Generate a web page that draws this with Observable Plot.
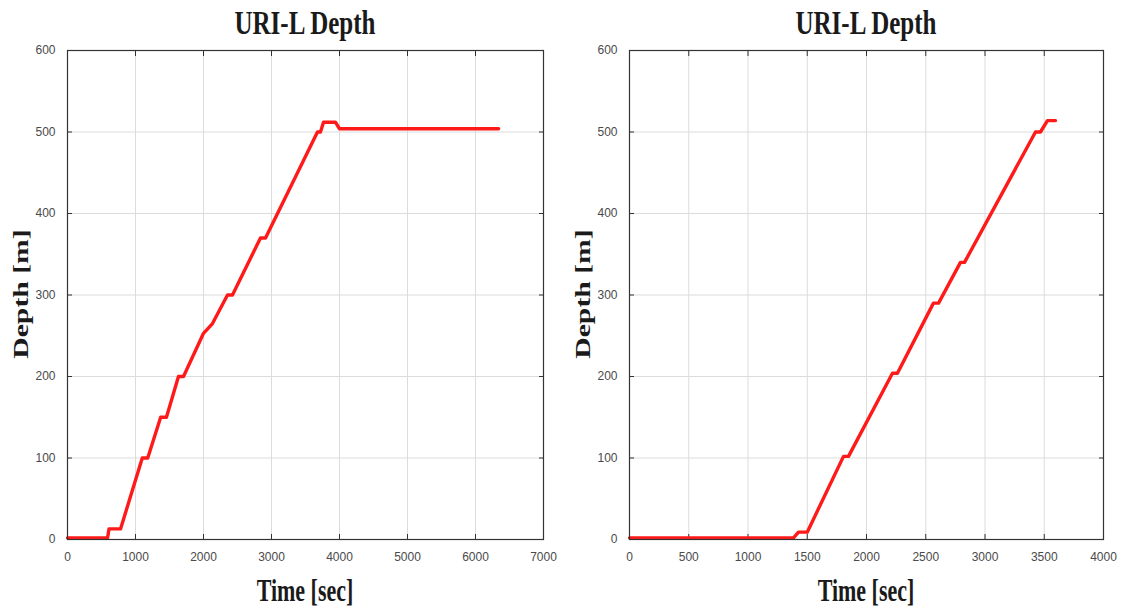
<!DOCTYPE html>
<html>
<head>
<meta charset="utf-8">
<script src="https://cdn.jsdelivr.net/npm/d3@7"></script>
<script src="https://cdn.jsdelivr.net/npm/@observablehq/plot@0.6"></script>
<style>
  html, body { margin: 0; padding: 0; background: #fff; }
  #wrap { position: relative; width: 1123px; height: 612px; overflow: hidden; background: #fff; }
  .panel { position: absolute; top: 40px; }
  .lbl { position: absolute; font-family: "Liberation Serif", "Times New Roman", serif; font-weight: bold; color: #1a1a1a; text-align: center; white-space: nowrap; line-height: 30px; height: 30px; }
  .title { font-size: 25px; transform: scaleY(1.35); }
  .xlab { font-size: 22px; transform: scaleY(1.4); }
  .ylab { font-size: 22px; transform: scaleY(1.35) rotate(-90deg); }
</style>
</head>
<body>
<div id="wrap"></div>
<script>
// ---- data ----
const titleText = "URI-L Depth";
const xLabelText = "Time [sec]";
const yLabelText = "Depth [m]";

const leftTime  = [0, 590, 610, 780, 1100, 1180, 1370, 1455, 1632, 1706, 2000, 2132, 2353, 2426, 2838, 2912, 3676, 3720, 3765, 3940, 4000, 6340];
const leftDepth = [2, 2, 13, 13, 100, 100, 150, 150, 200, 200, 253, 265, 300, 300, 370, 370, 500, 500, 512, 512, 504, 504];

const rightTime  = [0, 1384, 1426, 1500, 1806, 1848, 2219, 2261, 2565, 2608, 2793, 2827, 3426, 3468, 3527, 3595];
const rightDepth = [2, 2, 9, 9, 102, 102, 204, 204, 290, 290, 340, 340, 500, 500, 514, 514];

const leftXTicks  = [0, 1000, 2000, 3000, 4000, 5000, 6000, 7000];
const rightXTicks = [0, 500, 1000, 1500, 2000, 2500, 3000, 3500, 4000];
const yTicks      = [0, 100, 200, 300, 400, 500, 600];

// ---- drawing ----
const wrap = document.getElementById("wrap");
const fmt = d3.format("d");

function makePanel({time, depth, xTicks, left, width, marginLeft, marginRight}) {
  const data = time.map((t, i) => ({t, d: depth[i]}));
  const xMax = xTicks[xTicks.length - 1];
  const axisColor = "#333";
  const gridColor = "#dcdcdc";
  const labelColor = "#4a4a4a";
  const plot = Plot.plot({
    width, height: 572,
    marginTop: 10, marginBottom: 73, marginLeft, marginRight,
    x: {domain: [0, xMax]},
    y: {domain: [0, 600]},
    style: {fontFamily: "'Liberation Sans', Arial, sans-serif", fontSize: "12px", background: "#fff", color: labelColor, overflow: "visible"},
    marks: [
      Plot.gridX(xTicks, {stroke: gridColor, strokeOpacity: 1, strokeWidth: 1}),
      Plot.gridY(yTicks, {stroke: gridColor, strokeOpacity: 1, strokeWidth: 1}),
      Plot.axisX(xTicks, {anchor: "bottom", tickSize: 0, tickPadding: 13, label: null, fill: labelColor, fontSize: 12, tickFormat: fmt}),
      Plot.axisY(yTicks, {anchor: "left", tickSize: 0, tickPadding: 12, label: null, fill: labelColor, fontSize: 12, tickFormat: fmt}),
      Plot.axisX(xTicks, {anchor: "bottom", tickSize: -5, fill: "none", label: null, stroke: axisColor}),
      Plot.axisX(xTicks, {anchor: "top", tickSize: -5, fill: "none", label: null, stroke: axisColor}),
      Plot.axisY(yTicks, {anchor: "left", tickSize: -5, fill: "none", label: null, stroke: axisColor}),
      Plot.axisY(yTicks, {anchor: "right", tickSize: -5, fill: "none", label: null, stroke: axisColor}),
      Plot.line(data, {x: "t", y: "d", stroke: "#ff1a1a", strokeWidth: 3.4, strokeLinejoin: "round", strokeLinecap: "round"}),
      Plot.frame({stroke: axisColor, strokeWidth: 1.2})
    ]
  });
  const holder = document.createElement("div");
  holder.className = "panel";
  holder.style.left = left + "px";
  holder.appendChild(plot);
  wrap.appendChild(holder);

  const plotLeft = left + marginLeft;
  const plotRight = left + width - marginRight;
  const cx = (plotLeft + plotRight) / 2;

  const t = document.createElement("div");
  t.className = "lbl title";
  t.textContent = titleText;
  t.style.width = "300px";
  t.style.left = (cx - 150) + "px";
  t.style.top = "8px";
  wrap.appendChild(t);

  const xl = document.createElement("div");
  xl.className = "lbl xlab";
  xl.textContent = xLabelText;
  xl.style.width = "300px";
  xl.style.left = (cx - 150) + "px";
  xl.style.top = "576px";
  wrap.appendChild(xl);

  const yl = document.createElement("div");
  yl.className = "lbl ylab";
  yl.textContent = yLabelText;
  yl.style.width = "200px";
  yl.style.left = (plotLeft - 46 - 100) + "px";
  yl.style.top = (294 - 15) + "px";
  wrap.appendChild(yl);
}

makePanel({time: leftTime, depth: leftDepth, xTicks: leftXTicks, left: 0, width: 561, marginLeft: 67, marginRight: 18});
makePanel({time: rightTime, depth: rightDepth, xTicks: rightXTicks, left: 561, width: 562, marginLeft: 68, marginRight: 20});
</script>
</body>
</html>
